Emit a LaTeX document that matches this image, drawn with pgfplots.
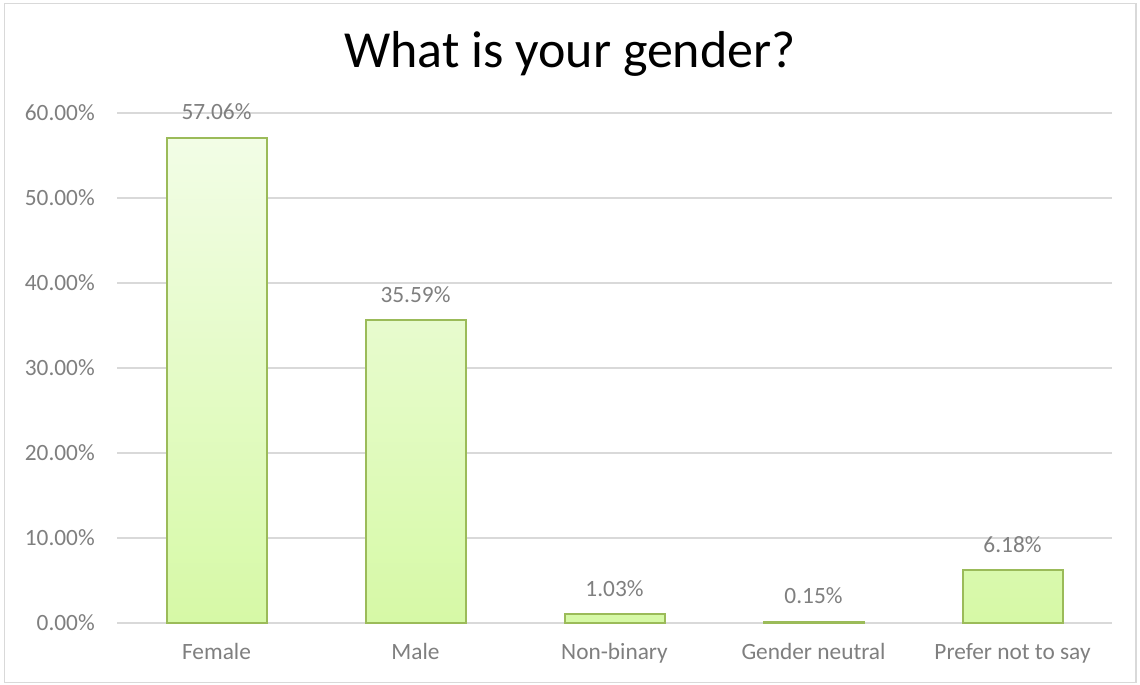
\documentclass[border=0pt]{standalone}
\usepackage{fontspec}
\setmainfont{Carlito}
\usepackage{pgfplots}
\pgfplotsset{compat=1.18}
\definecolor{txtgray}{HTML}{7F7F7F}
\definecolor{gridgray}{HTML}{D9D9D9}
\definecolor{framegray}{HTML}{D9D9D9}
\definecolor{barline}{HTML}{9BBB59}
\definecolor{bartop}{HTML}{F2FDE6}
\definecolor{barbot}{HTML}{D6F9A6}
\begin{document}
\begin{tikzpicture}
\fill[white] (0pt,0pt) rectangle (855pt,513.75pt);
\draw[color=framegray, line width=1.2pt] (3.5pt,2pt) rectangle (852pt,511pt);
\node[font=\fontsize{39}{46}\selectfont, anchor=base, inner sep=0pt] at (427.5pt,462.75pt) {What is your gender?};
\begin{axis}[
  at={(87.75pt,46.5pt)}, anchor=south west,
  scale only axis,
  width=746.25pt, height=382.5pt,
  xmin=-0.5, xmax=4.5,
  ymin=0, ymax=60,
  ytick={0,10,20,30,40,50,60},
  xtick=data,
  xticklabels={Female,Male,Non-binary,Gender neutral,Prefer not to say},
  /pgf/number format/assume math mode=true,
  yticklabel={\pgfmathprintnumber[fixed,fixed zerofill,precision=2]{\tick}\%},
  ticklabel style={font=\fontsize{17.5}{21}\selectfont, text=txtgray},
  yticklabel style={anchor=east, inner sep=0pt, xshift=-16.5pt},
  xticklabel style={anchor=base, inner sep=0pt, yshift=-27.75pt},
  major tick length=0pt,
  axis line style={draw=none},
  ymajorgrids,
  grid style={color=gridgray, line width=1.1pt},
  clip=false,
  ybar, bar width=75pt,
  nodes near coords={\pgfmathprintnumber[fixed,fixed zerofill,precision=2]{\pgfplotspointmeta}\%},
  every node near coord/.append style={font=\fontsize{17.5}{21}\selectfont, text=txtgray, anchor=base, inner sep=0pt, yshift=13.5pt},
]
\addplot[draw=barline, line width=1.5pt, top color=bartop, bottom color=barbot] coordinates {
  (0,57.06) (1,35.59) (2,1.03) (3,0.15) (4,6.18)
};
\end{axis}
\end{tikzpicture}
\end{document}
